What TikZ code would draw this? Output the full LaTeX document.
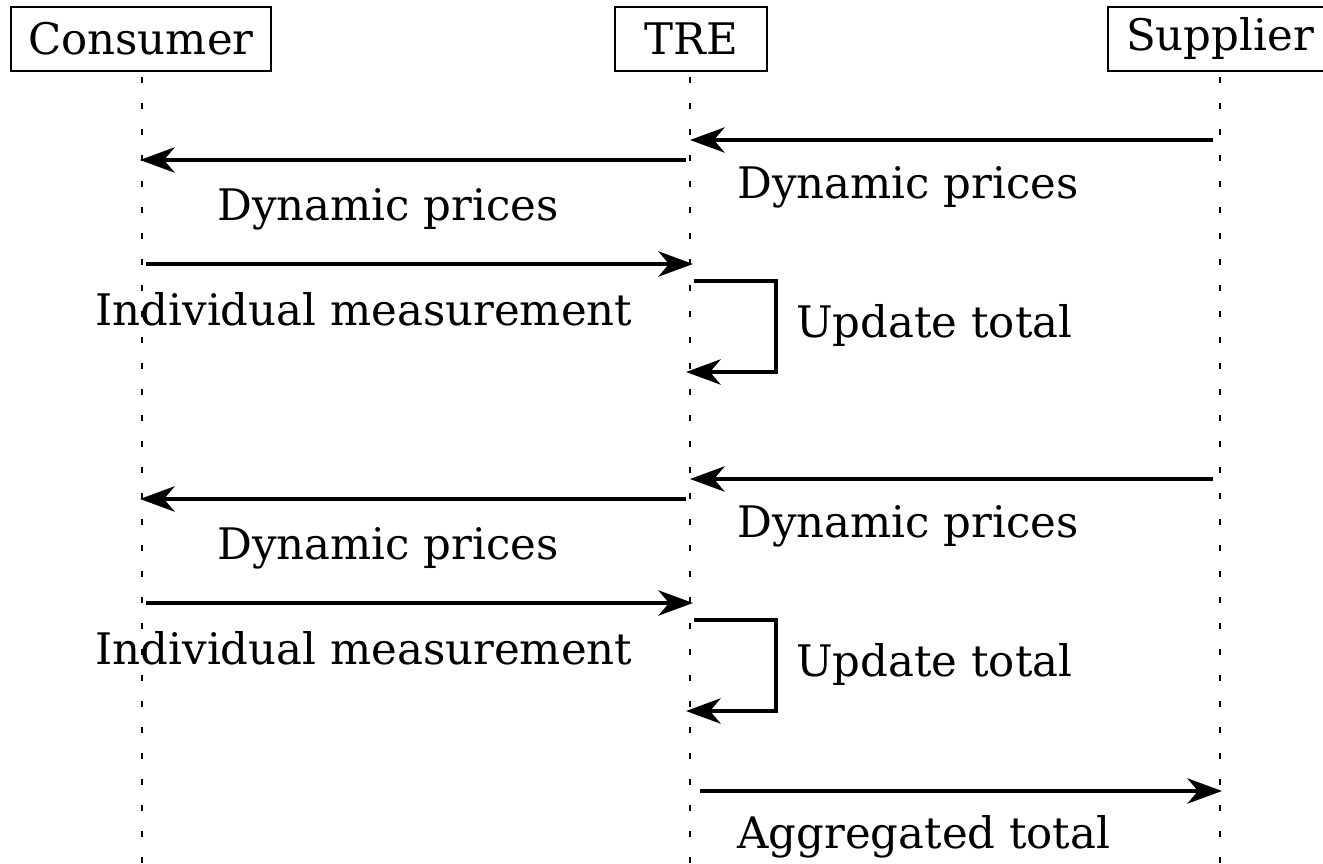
\documentclass[tikz,border=0pt]{standalone}
\usepackage{fontspec}
\setmainfont{DejaVu Serif}
\usetikzlibrary{arrows.meta}
\begin{document}
\begin{tikzpicture}[x=0.75pt,y=-0.75pt,
  actor/.style={draw,line width=1.5pt,inner sep=0pt,minimum height=48pt,
    font=\fontsize{32.6}{39}\selectfont},
  lifeline/.style={line width=2.2pt,dash pattern=on 4.8pt off 14.7pt,dash phase=15.75pt},
  msg/.style={line width=2.6pt,-{Stealth[length=26pt,width=19pt,inset=8pt]}},
  lbl/.style={inner sep=0pt,font=\fontsize{32.6}{39}\selectfont}]
\clip (0,0) rectangle (1323,863);
\useasboundingbox (0,0) rectangle (1323,863);

% participants
\node[actor,minimum width=195pt] (consumer) at (141,39) {Consumer};
\node[actor,minimum width=114pt] (tre) at (691,39) {TRE};
\node[actor,minimum width=168pt] (supplier) at (1220,39) {Supplier};

% lifelines
\coordinate (cEnd) at (142,863);
\coordinate (tEnd) at (690,863);
\coordinate (sEnd) at (1220,863);
\draw[lifeline] (consumer.south -| cEnd) -- (cEnd);
\draw[lifeline] (tre.south -| tEnd) -- (tEnd);
\draw[lifeline] (supplier.south -| sEnd) -- (sEnd);

% message end points
\foreach \k/\dy in {1/0,2/339}{
  \coordinate (sA\k) at (1213,140+\dy);
  \coordinate (tA\k) at (690,140+\dy);
  \coordinate (tB\k) at (686,160+\dy);
  \coordinate (cB\k) at (140,160+\dy);
  \coordinate (cC\k) at (146,264+\dy);
  \coordinate (tC\k) at (693,264+\dy);
  \coordinate (tD\k) at (694,281+\dy);
  \coordinate (rD\k) at (776,281+\dy);
  \coordinate (rE\k) at (776,372+\dy);
  \coordinate (tE\k) at (686,372+\dy);
}
\coordinate (tF) at (700,791);
\coordinate (sF) at (1222,791);

% first round
\draw[msg] (sA1) -- (tA1);
\node[lbl,anchor=base west] (pS1) at (737,198) {Dynamic prices};
\draw[msg] (tB1) -- (cB1);
\node[lbl,anchor=base] (pC1) at (388,220) {Dynamic prices};
\draw[msg] (cC1) -- (tC1);
\node[lbl,anchor=base] (m1) at (364,325) {Individual measurement};
\draw[msg] (tD1) -- (rD1) -- (rE1) -- (tE1);
\node[lbl,anchor=base west] (u1) at (796,337) {Update total};

% second round
\draw[msg] (sA2) -- (tA2);
\node[lbl,anchor=base west] (pS2) at (737,537) {Dynamic prices};
\draw[msg] (tB2) -- (cB2);
\node[lbl,anchor=base] (pC2) at (388,559) {Dynamic prices};
\draw[msg] (cC2) -- (tC2);
\node[lbl,anchor=base] (m2) at (364,664) {Individual measurement};
\draw[msg] (tD2) -- (rD2) -- (rE2) -- (tE2);
\node[lbl,anchor=base west] (u2) at (796,676) {Update total};

% aggregate
\draw[msg] (tF) -- (sF);
\node[lbl,anchor=base west] (agg) at (737,848) {Aggregated total};
\end{tikzpicture}
\end{document}
